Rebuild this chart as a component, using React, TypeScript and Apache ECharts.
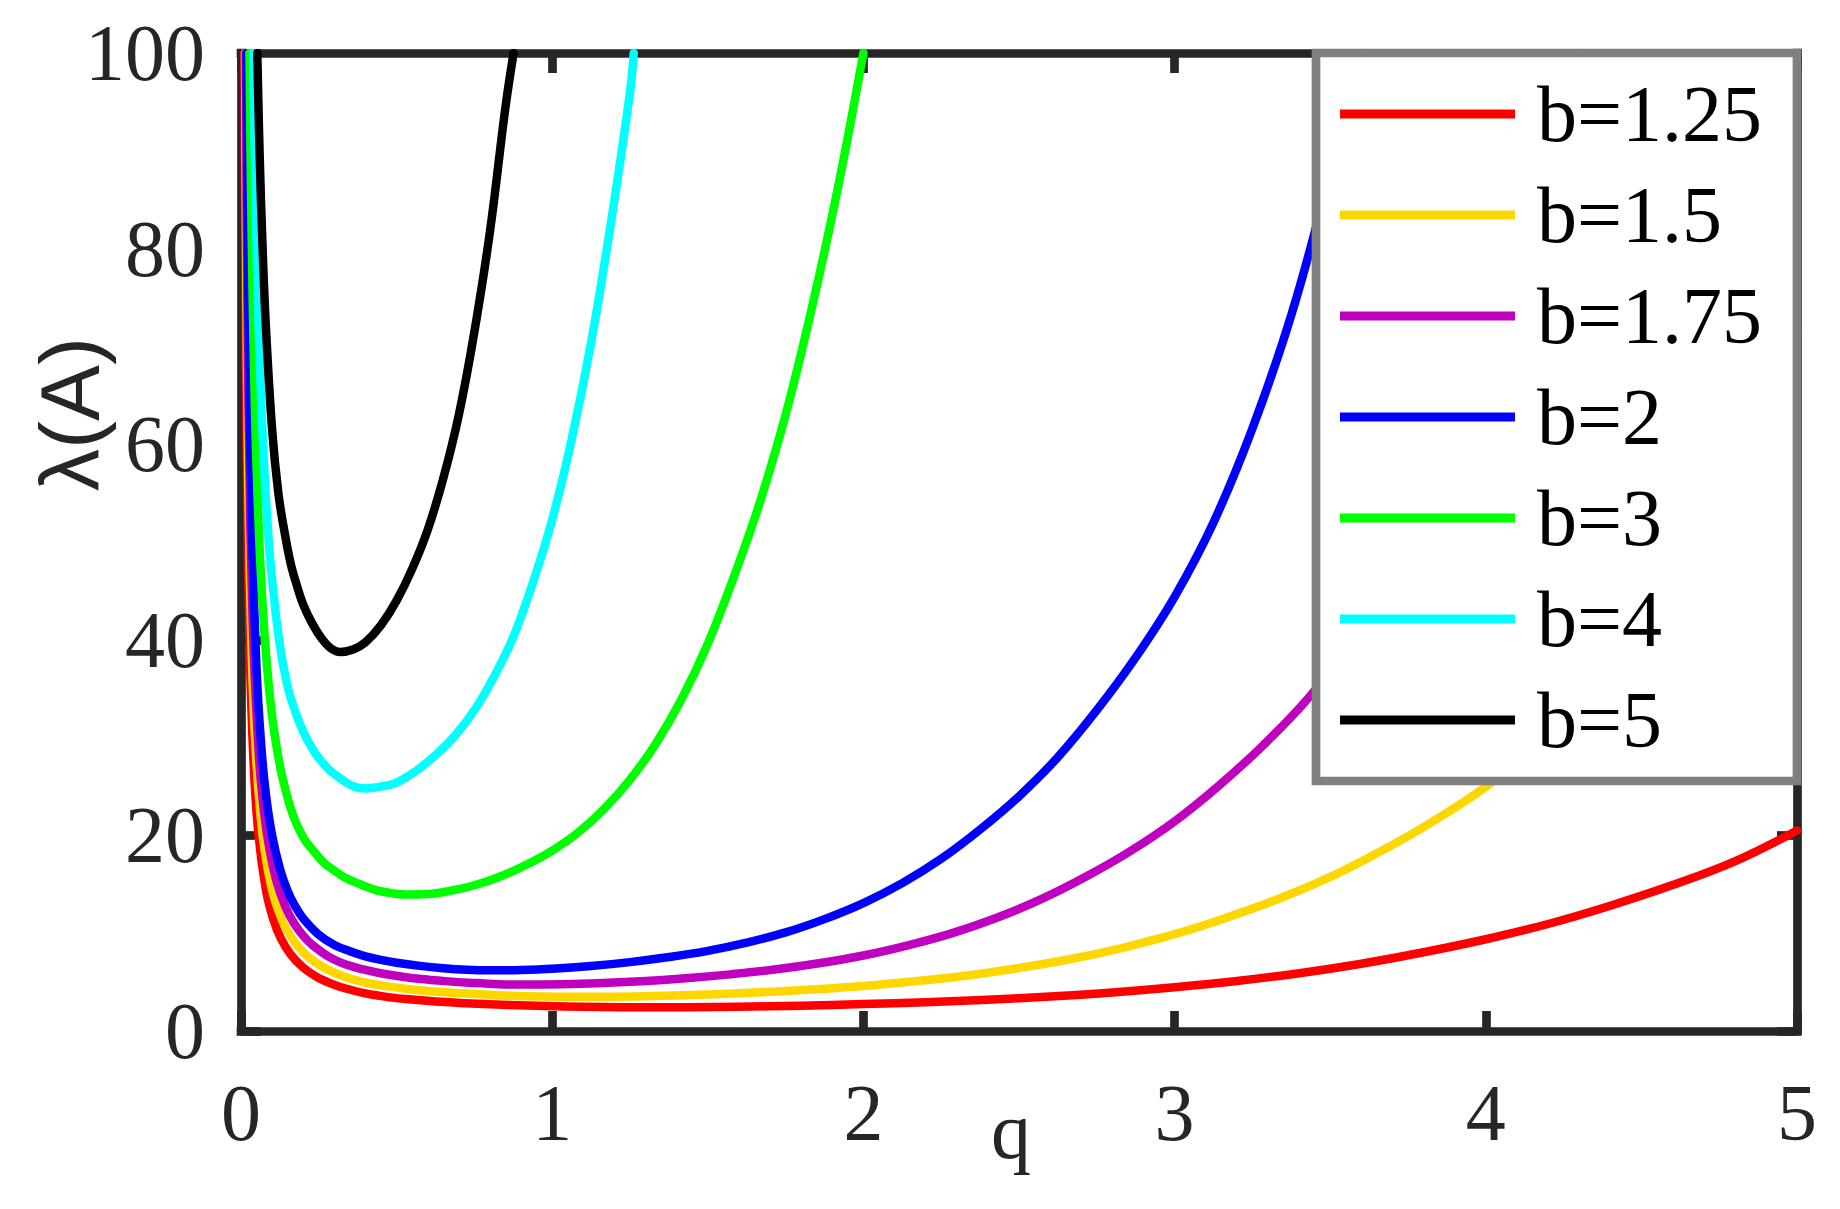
import React, { useEffect, useRef } from 'react';
import * as echarts from 'echarts';

// ---- data ----
const xTicks = [0, 1, 2, 3, 4, 5];
const yTicks = [0, 20, 40, 60, 80, 100];

const seriesNames = ['b=1.25', 'b=1.5', 'b=1.75', 'b=2', 'b=3', 'b=4', 'b=5'];
const seriesColors = ['#FF0000', '#FFD700', '#BF00BF', '#0000FF', '#00FF00', '#00FFFF', '#000000'];

const qB125 = [0.0108, 0.0144, 0.02, 0.028, 0.04, 0.056, 0.08, 0.104, 0.128, 0.16, 0.2, 0.24, 0.28, 0.32, 0.4, 0.48, 0.56, 0.64, 0.72, 0.8, 0.92, 1.04, 1.16, 1.28, 1.44, 1.6, 1.8, 2.0, 2.2, 2.4, 2.6, 2.8, 3.0, 3.2, 3.4, 3.6, 3.8, 4.0, 4.2, 4.4, 4.6, 4.8, 5.0];
const lamB125 = [100, 75, 54.3, 39.1, 27.7, 20.1, 14.45, 11.4, 9.47, 7.81, 6.48, 5.59, 4.97, 4.5, 3.84, 3.44, 3.19, 2.98, 2.84, 2.73, 2.6, 2.51, 2.45, 2.42, 2.44, 2.48, 2.59, 2.75, 2.95, 3.2, 3.53, 3.94, 4.47, 5.11, 5.91, 6.88, 8.05, 9.38, 10.94, 12.81, 14.92, 17.34, 20.5];

const qB15 = [0.013, 0.0167, 0.0233, 0.0333, 0.0467, 0.0667, 0.0867, 0.1067, 0.1333, 0.1667, 0.2, 0.2333, 0.2667, 0.3333, 0.4, 0.4667, 0.5333, 0.6, 0.6667, 0.7667, 0.8667, 0.9667, 1.0667, 1.2, 1.3333, 1.5, 1.6667, 1.8333, 2.0, 2.1667, 2.3333, 2.5, 2.6667, 2.8333, 3.0, 3.1667, 3.3333, 3.5, 3.6667, 3.8333, 4.0, 4.1667, 4.3333, 4.5, 4.6667, 4.8333, 5.0];
const lamB15 = [100, 78.2, 56.3, 39.9, 29, 20.8, 16.4, 13.6, 11.25, 9.34, 8.06, 7.16, 6.48, 5.54, 4.95, 4.59, 4.3, 4.1, 3.93, 3.75, 3.61, 3.52, 3.49, 3.51, 3.58, 3.74, 3.96, 4.25, 4.61, 5.09, 5.67, 6.44, 7.36, 8.51, 9.9, 11.59, 13.5, 15.75, 18.45, 21.49, 24.98, 29.25, 34.65, 41.2, 49.3, 59.2, 71.6];

const qB175 = [0.01523, 0.02, 0.02857, 0.04, 0.05714, 0.07429, 0.09143, 0.1143, 0.1429, 0.1714, 0.2, 0.2286, 0.2857, 0.3429, 0.4, 0.4571, 0.5143, 0.5714, 0.6571, 0.7429, 0.8286, 0.9143, 1.0286, 1.1429, 1.2857, 1.4286, 1.5714, 1.7143, 1.8571, 2.0, 2.1429, 2.2857, 2.4286, 2.5714, 2.7143, 2.8571, 3.0, 3.1429, 3.2857, 3.4286, 3.5714, 3.7143, 3.8571, 4.0, 4.1429, 4.2857, 4.314];
const lamB175 = [100, 76.7, 54.4, 39.5, 28.3, 22.3, 18.6, 15.3, 12.7, 10.96, 9.74, 8.82, 7.53, 6.74, 6.25, 5.85, 5.57, 5.34, 5.1, 4.92, 4.79, 4.75, 4.78, 4.87, 5.08, 5.39, 5.79, 6.28, 6.92, 7.72, 8.76, 10.01, 11.58, 13.48, 15.77, 18.38, 21.44, 25.11, 29.25, 34.0, 39.8, 47.2, 56, 67.1, 80.5, 97.4, 100];

const qB2 = [0.0175, 0.025, 0.035, 0.05, 0.065, 0.08, 0.1, 0.125, 0.15, 0.175, 0.2, 0.25, 0.3, 0.35, 0.4, 0.45, 0.5, 0.575, 0.65, 0.725, 0.8, 0.9, 1.0, 1.125, 1.25, 1.375, 1.5, 1.625, 1.75, 1.875, 2.0, 2.125, 2.25, 2.375, 2.5, 2.625, 2.75, 2.875, 3.0, 3.125, 3.25, 3.375, 3.5, 3.605];
const lamB2 = [100, 71, 51.6, 37, 29.2, 24.2, 20, 16.6, 14.3, 12.7, 11.5, 9.84, 8.8, 8.16, 7.64, 7.28, 6.98, 6.66, 6.42, 6.26, 6.2, 6.24, 6.36, 6.64, 7.04, 7.56, 8.2, 9.04, 10.08, 11.44, 13.08, 15.12, 17.6, 20.6, 24, 28, 32.8, 38.2, 44.4, 52, 61.6, 73.2, 87.6, 100];

const qB3 = [0.0273, 0.0333, 0.0433, 0.0533, 0.0667, 0.0833, 0.1, 0.1167, 0.1333, 0.1667, 0.2, 0.2333, 0.2667, 0.3, 0.3333, 0.3833, 0.4333, 0.4833, 0.5333, 0.6, 0.6667, 0.75, 0.8333, 0.9167, 1.0, 1.0833, 1.1667, 1.25, 1.3333, 1.4167, 1.5, 1.5833, 1.6667, 1.75, 1.8333, 1.9167, 2.0];
const lamB3 = [100, 83.25, 65.6, 54.5, 45, 37.35, 32.2, 28.6, 25.9, 22.1, 19.8, 18.4, 17.2, 16.4, 15.7, 15.0, 14.4, 14.1, 13.95, 14.0, 14.3, 14.9, 15.8, 17.0, 18.45, 20.3, 22.7, 25.7, 29.4, 34.0, 39.6, 46.4, 54, 63, 73.8, 86, 100];

const qB4 = [0.0386, 0.04, 0.05, 0.0625, 0.075, 0.0875, 0.1, 0.125, 0.15, 0.175, 0.2, 0.225, 0.25, 0.2875, 0.325, 0.3625, 0.4, 0.45, 0.5, 0.5625, 0.625, 0.6875, 0.75, 0.8125, 0.875, 0.9375, 1.0, 1.0625, 1.125, 1.1875, 1.25, 1.262];
const lamB4 = [100, 97, 80, 66.4, 57.3, 50.9, 46.1, 39.4, 35.2, 32.6, 30.6, 29.1, 27.9, 26.6, 25.7, 25.0, 24.8, 25.0, 25.4, 26.6, 28.2, 30.2, 32.8, 36.2, 40.3, 45.8, 52.3, 60.5, 70.4, 82.4, 96, 100];

const qB5 = [0.0523, 0.06, 0.07, 0.08, 0.1, 0.12, 0.14, 0.16, 0.18, 0.2, 0.23, 0.26, 0.29, 0.32, 0.36, 0.4, 0.45, 0.5, 0.55, 0.6, 0.65, 0.7, 0.75, 0.8, 0.85, 0.876];
const lamB5 = [100, 89.5, 79.5, 72, 61.5, 55, 51, 47.75, 45.5, 43.6, 41.6, 40.1, 39.1, 38.75, 39, 39.75, 41.5, 44, 47.25, 51.25, 56.5, 63, 71.5, 81.75, 94.5, 100];

const qLists = [qB125, qB15, qB175, qB2, qB3, qB4, qB5];
const lamLists = [lamB125, lamB15, lamB175, lamB2, lamB3, lamB4, lamB5];

const AXIS_COLOR = '#262626';

export default function App() {
  const ref = useRef<HTMLDivElement>(null);

  useEffect(() => {
    if (!ref.current) return;
    const chart = echarts.init(ref.current, null, { renderer: 'svg' });

    const axisLine = { show: true, onZero: false, lineStyle: { color: AXIS_COLOR, width: 8.7, cap: 'square' } };
    const axisTick = { show: true, inside: true, length: 20, lineStyle: { color: AXIS_COLOR, width: 8.7 } };
    const labelFont = { fontFamily: 'Liberation Serif', fontSize: 80, color: AXIS_COLOR };

    const xBase = {
      type: 'value',
      min: xTicks[0],
      max: xTicks[xTicks.length - 1],
      interval: xTicks[1] - xTicks[0],
      axisLine,
      axisTick,
      splitLine: { show: false },
    };
    const yBase = {
      type: 'value',
      min: yTicks[0],
      max: yTicks[yTicks.length - 1],
      interval: yTicks[1] - yTicks[0],
      axisLine,
      axisTick,
      splitLine: { show: false },
    };

    chart.setOption({
      animation: false,
      backgroundColor: '#ffffff',
      grid: { left: 241, right: 43, top: 53, bottom: 178, containLabel: false },
      xAxis: [
        { ...xBase, position: 'bottom', axisLabel: { ...labelFont, margin: 42 } },
        { ...xBase, position: 'top', axisLabel: { show: false } },
      ],
      yAxis: [
        { ...yBase, position: 'left', axisLabel: { ...labelFont, margin: 36 } },
        { ...yBase, position: 'right', axisLabel: { show: false } },
      ],
      legend: {
        orient: 'vertical',
        left: 1340,
        top: 74,
        padding: 0,
        itemGap: 21,
        itemWidth: 175,
        itemHeight: 9,
        icon: 'rect',
        selectedMode: false,
        z: 5,
        textStyle: {
          fontFamily: 'Liberation Serif',
          fontSize: 80,
          lineHeight: 80,
          color: '#000000',
          padding: [0, 0, 0, 17],
        },
        data: seriesNames,
      },
      graphic: [
        {
          type: 'rect',
          z: 3,
          shape: { x: 1316, y: 53, width: 481, height: 728 },
          style: { fill: '#ffffff', stroke: '#808080', lineWidth: 8.7 },
        },
        {
          type: 'text',
          x: 70,
          y: 414,
          rotation: Math.PI / 2,
          style: {
            text: 'λ(A)',
            fontFamily: 'Liberation Sans',
            fontSize: 84,
            fill: AXIS_COLOR,
            align: 'center',
            verticalAlign: 'middle',
          },
        },
        {
          type: 'text',
          x: 1011,
          y: 1131,
          style: {
            text: 'q',
            fontFamily: 'Liberation Serif',
            fontSize: 80,
            fill: AXIS_COLOR,
            align: 'center',
            verticalAlign: 'middle',
          },
        },
      ],
      series: seriesNames.map((name, i) => ({
        name,
        type: 'line',
        xAxisIndex: 0,
        yAxisIndex: 0,
        data: qLists[i].map((q, j) => [q, lamLists[i][j]]),
        symbol: 'none',
        showSymbol: false,
        smooth: 0.4,
        clip: true,
        color: seriesColors[i],
        itemStyle: { color: seriesColors[i] },
        lineStyle: { color: seriesColors[i], width: 8.5, join: 'round', cap: 'round' },
        z: 2,
      })),
    });

    return () => {
      chart.dispose();
    };
  }, []);

  return (
    <div
      ref={ref}
      style={{ position: 'fixed', left: 0, top: 0, width: 1840, height: 1209, background: '#ffffff' }}
    />
  );
}
